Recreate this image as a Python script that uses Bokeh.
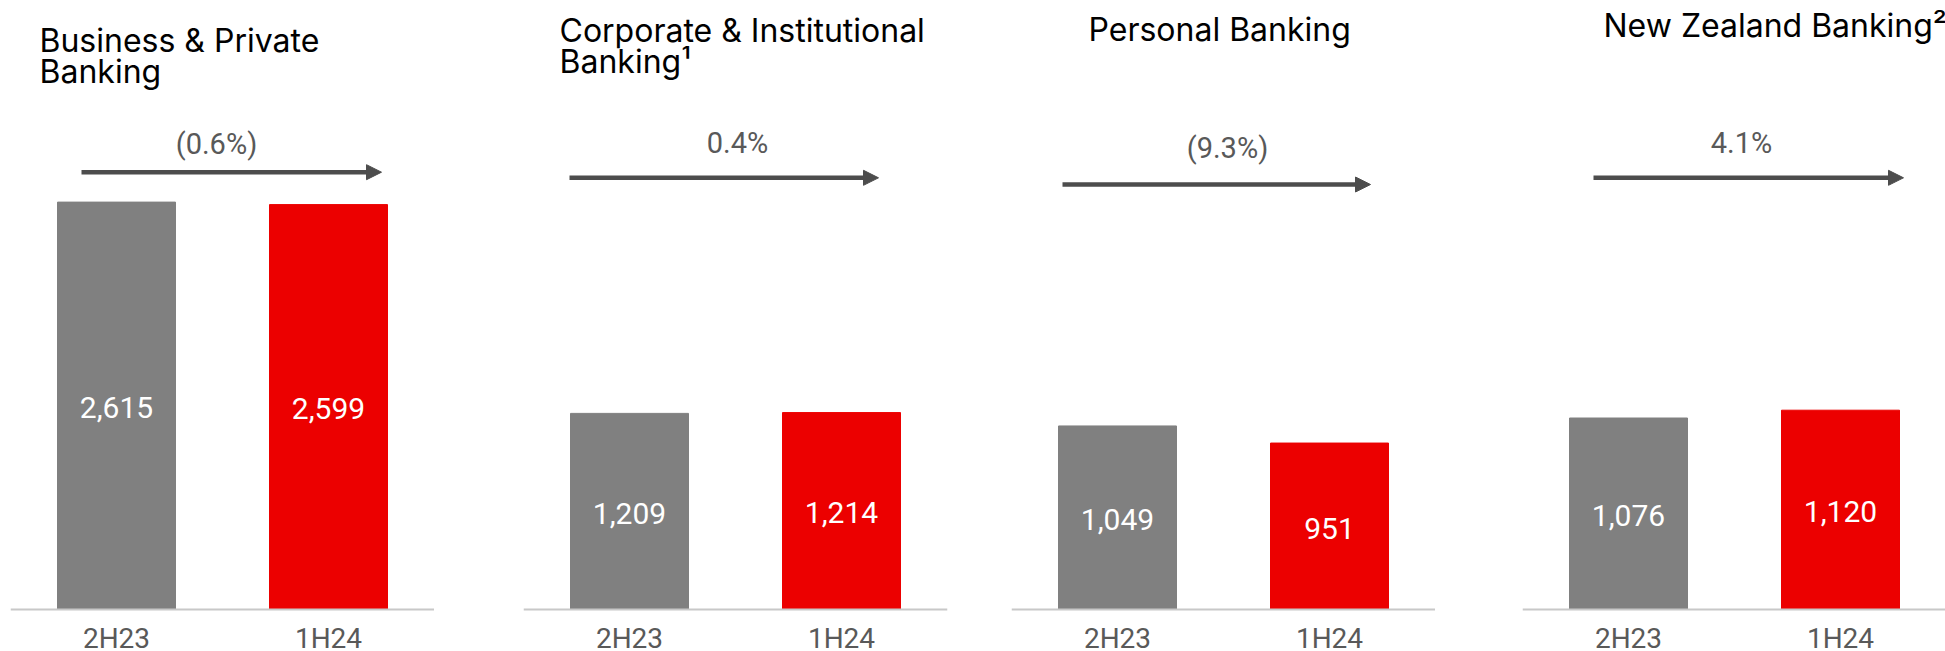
from bokeh.plotting import figure
from bokeh.layouts import row
from bokeh.models import Range1d, FixedTicker, Label, Arrow, NormalHead, ColumnDataSource
from bokeh.core.properties import value
from bokeh.embed import file_html
from bokeh.resources import INLINE

# ---------------- data ----------------
periods = ["2H23", "1H24"]
segments = [
    "Business & Private\nBanking",
    "Corporate & Institutional\nBanking\u00b9",
    "Personal Banking",
    "New Zealand Banking\u00b2",
]
values_2H23 = [2615, 1209, 1049, 1076]
values_1H24 = [2599, 1214, 951, 1120]
change_labels = ["(0.6%)", "0.4%", "(9.3%)", "4.1%"]

# ---------------- style / layout ----------------
BAR_COLORS = ["#808080", "#ec0000"]
TITLE_FONT = "Inter"
NUM_FONT = "Roboto"
PAGE_TOP = 0
FIG_H = 651
AXIS_Y = 608.5          # page y of the axis line
CAT_PX = 212.0          # pixels per category
BAR_W = 118.0 / CAT_PX
TITLE_SHIFT = -12

panels = [
    dict(fig_left=0, width=434, bl=10, br=0, frame_w=424, scale=0.1556,
         title_xy=(39, 52), change_xy=(216, 143), arrow=(81, 381, 171.7)),
    dict(fig_left=434, width=526, bl=89, br=13, frame_w=424, scale=0.1618,
         title_xy=(559, 42), change_xy=(737, 142.5), arrow=(569, 878, 177.3)),
    dict(fig_left=960, width=475, bl=51, br=0, frame_w=424, scale=0.1745,
         title_xy=(1088, 41), change_xy=(1227, 147.5), arrow=(1062, 1370, 184)),
    dict(fig_left=1435, width=510, bl=87, br=0, frame_w=423, scale=0.1775,
         title_xy=(1603, 37), change_xy=(1741, 142), arrow=(1593, 1903, 177.3)),
]

figs = []
for i, cfg in enumerate(panels):
    s = cfg["scale"]
    frame_left = cfg["fig_left"] + cfg["bl"]
    y_end = (AXIS_Y - PAGE_TOP) / s
    y_start = -(PAGE_TOP + FIG_H - AXIS_Y) / s
    x_end = -0.5 + cfg["frame_w"] / CAT_PX

    def dx(px, fl=frame_left):
        return (px - fl) / CAT_PX - 0.5

    def dy(py, s=s):
        return (AXIS_Y - py) / s

    p = figure(width=cfg["width"], height=FIG_H,
               x_range=Range1d(-0.5, x_end), y_range=Range1d(y_start, y_end),
               toolbar_location=None, output_backend="svg",
               y_axis_location=None,
               min_border_left=cfg["bl"], min_border_right=cfg["br"],
               min_border_top=0, min_border_bottom=0,
               outline_line_color=None, background_fill_color="white",
               border_fill_color="white")
    p.grid.visible = False

    vals = [values_2H23[i], values_1H24[i]]
    src = ColumnDataSource(dict(
        x=[0, 1], top=vals, mid=[v / 2 for v in vals],
        color=BAR_COLORS, label=[f"{v:,}" for v in vals]))
    p.vbar(x="x", top="top", width=BAR_W, color="color", source=src)
    p.text(x="x", y="mid", text="label", source=src, text_color="white",
           text_font=value(NUM_FONT), text_font_size="30px",
           text_align="center", text_baseline="middle", y_offset=2)

    ax = p.xaxis[0]
    ax.fixed_location = 0
    ax.ticker = FixedTicker(ticks=[0, 1])
    ax.major_label_overrides = {0: periods[0], 1: periods[1]}
    ax.axis_line_color = "#c8c8c8"
    ax.axis_line_width = 2
    ax.major_tick_line_color = None
    ax.minor_tick_line_color = None
    ax.major_label_standoff = 7
    ax.major_label_text_font = NUM_FONT
    ax.major_label_text_font_size = "28px"
    ax.major_label_text_color = "#595959"

    # title lines
    tx, ty = cfg["title_xy"]
    for k, line in enumerate(segments[i].split("\n")):
        p.add_layout(Label(x=dx(tx), y=dy(ty + TITLE_SHIFT + 31 * k), text=line,
                           text_font=TITLE_FONT, text_font_size="32px",
                           text_color="#000000", text_align="left",
                           text_baseline="alphabetic"))

    # change label and arrow
    cx, cy = cfg["change_xy"]
    p.add_layout(Label(x=dx(cx), y=dy(cy), text=change_labels[i],
                       text_font=NUM_FONT, text_font_size="29px",
                       text_color="#595959", text_align="center",
                       text_baseline="middle"))
    ax0, ax1, ay = cfg["arrow"]
    p.add_layout(Arrow(x_start=dx(ax0), y_start=dy(ay), x_end=dx(ax1), y_end=dy(ay),
                       line_color="#4d4d4d", line_width=4.5,
                       end=NormalHead(size=15, fill_color="#4d4d4d",
                                      line_color="#4d4d4d", line_width=1)))
    figs.append(p)

layout = row(*figs)
open("out.html", "w").write(file_html(layout, INLINE))
